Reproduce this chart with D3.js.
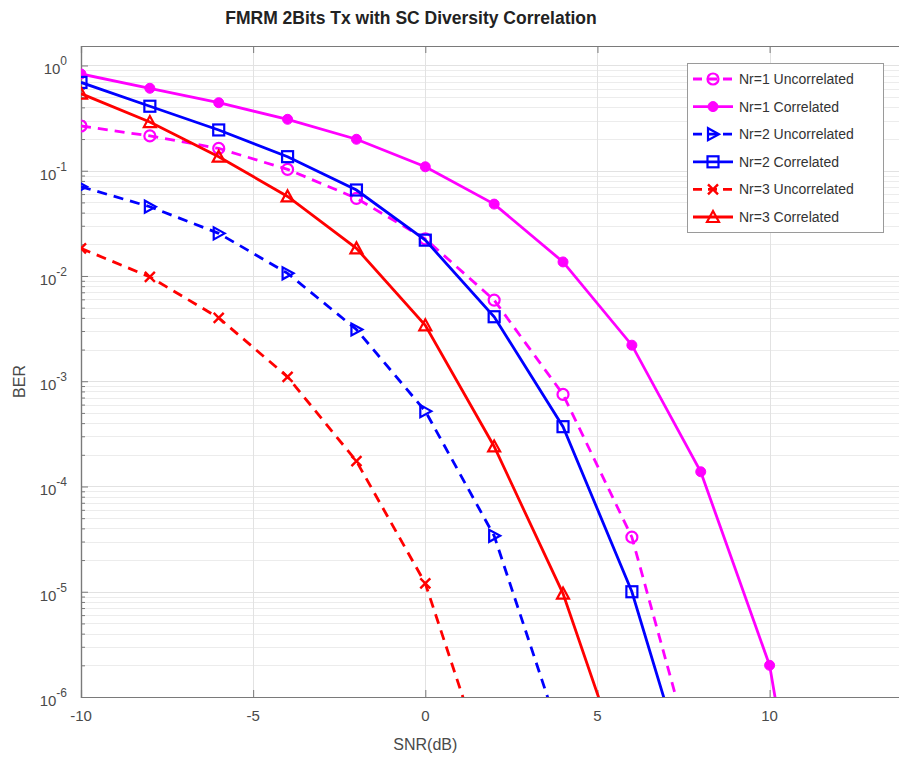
<!DOCTYPE html>
<html>
<head>
<meta charset="utf-8">
<script src="https://cdn.jsdelivr.net/npm/d3@7"></script>
<style>
  body { margin: 0; background: #fff; }
  text { font-family: "Liberation Sans", Arial, sans-serif; }
</style>
</head>
<body>
<div id="vis"></div>
<script>
// SNR points (dB)
var snr = [-10, -8, -6, -4, -2, 0, 2, 4, 6, 8, 10, 12];

// BER curves (values below 1e-6 only set the slope of the clipped tail)
var nr1Uncorr = [0.266, 0.214, 0.163, 0.103, 0.0547, 0.0225, 0.0059, 7.5e-4, 3.3e-5, 1.4e-7];
var nr1Corr = [0.83, 0.607, 0.443, 0.308, 0.199, 0.109, 0.0482, 0.0136, 0.0022, 1.38e-4, 2.0e-6, 3e-10];
var nr2Uncorr = [0.0705, 0.0455, 0.0254, 0.0106, 0.0031, 5.2e-4, 3.4e-5, 3.6e-7];
var nr2Corr = [0.69, 0.41, 0.244, 0.136, 0.0656, 0.0219, 0.0041, 3.7e-4, 1.0e-5, 6.8e-8];
var nr3Uncorr = [0.0183, 0.0098, 0.0040, 0.0011, 1.74e-4, 1.2e-5, 1.26e-7];
var nr3Corr = [0.54, 0.29, 0.136, 0.057, 0.0183, 0.0034, 2.4e-4, 9.6e-6, 1.19e-7];

var seriesNames = ["Nr=1 Uncorrelated", "Nr=1 Correlated", "Nr=2 Uncorrelated",
                   "Nr=2 Correlated", "Nr=3 Uncorrelated", "Nr=3 Correlated"];
var xTicks = [-10, -5, 0, 5, 10];
var yDecades = [-6, -5, -4, -3, -2, -1, 0];

var series = [
  { name: seriesNames[0], values: nr1Uncorr, color: "#ff00ff", dash: true, marker: "circle" },
  { name: seriesNames[1], values: nr1Corr, color: "#ff00ff", dash: false, marker: "dot" },
  { name: seriesNames[2], values: nr2Uncorr, color: "#0000ff", dash: true, marker: "triright" },
  { name: seriesNames[3], values: nr2Corr, color: "#0000ff", dash: false, marker: "square" },
  { name: seriesNames[4], values: nr3Uncorr, color: "#ff0000", dash: true, marker: "cross" },
  { name: seriesNames[5], values: nr3Corr, color: "#ff0000", dash: false, marker: "triup" }
];

var W = 899, H = 759;
var plotLeft = 81, plotTop = 46, plotBottom = 697;
var plotRight = plotLeft + 24 * 34.43;

var svg = d3.select("#vis").append("svg")
  .attr("width", W)
  .attr("height", H);

var x = d3.scaleLinear().domain([-10, 14]).range([plotLeft, plotRight]);
var y = d3.scaleLog().domain([1e-6, Math.pow(10, 0.185)]).range([plotBottom, plotTop]);

// clip for the data
svg.append("clipPath").attr("id", "plotclip")
  .append("rect")
  .attr("x", plotLeft).attr("y", plotTop)
  .attr("width", plotRight - plotLeft).attr("height", plotBottom - plotTop);

// grid
var grid = svg.append("g");
var minorVals = [];
yDecades.forEach(function (k) {
  if (k == 0) return;
  for (var m = 2; m <= 9; m++) minorVals.push(m * Math.pow(10, k));
});
grid.selectAll(".yminor").data(minorVals).enter().append("line")
  .attr("x1", plotLeft).attr("x2", plotRight)
  .attr("y1", function (d) { return Math.round(y(d)) + 0.5; })
  .attr("y2", function (d) { return Math.round(y(d)) + 0.5; })
  .attr("stroke", "#ececec").attr("stroke-width", 1);
grid.selectAll(".ymajor").data(yDecades).enter().append("line")
  .attr("x1", plotLeft).attr("x2", plotRight)
  .attr("y1", function (d) { return Math.round(y(Math.pow(10, d))) + 0.5; })
  .attr("y2", function (d) { return Math.round(y(Math.pow(10, d))) + 0.5; })
  .attr("stroke", "#e2e2e2").attr("stroke-width", 1);
grid.selectAll(".xmajor").data(xTicks).enter().append("line")
  .attr("y1", plotTop).attr("y2", plotBottom)
  .attr("x1", function (d) { return Math.round(x(d)) + 0.5; })
  .attr("x2", function (d) { return Math.round(x(d)) + 0.5; })
  .attr("stroke", "#e2e2e2").attr("stroke-width", 1);

// axes with inward ticks
var axisColor = "#7a7a7a";
var majorY = yDecades.map(function (k) { return Math.pow(10, k); });
var xAxisB = svg.append("g").attr("transform", "translate(0," + plotBottom + ")")
  .call(d3.axisTop(x).tickValues(xTicks).tickSize(7).tickFormat(""));
var xAxisT = svg.append("g").attr("transform", "translate(0," + plotTop + ")")
  .call(d3.axisBottom(x).tickValues(xTicks).tickSize(7).tickFormat(""));
var yAxisL = svg.append("g").attr("transform", "translate(" + plotLeft + ",0)")
  .call(d3.axisRight(y).tickValues(majorY).tickSize(7).tickFormat(""));
var yAxisLm = svg.append("g").attr("transform", "translate(" + plotLeft + ",0)")
  .call(d3.axisRight(y).tickValues(minorVals).tickSize(4).tickFormat(""));
var yAxisR = svg.append("g").attr("transform", "translate(" + plotRight + ",0)")
  .call(d3.axisLeft(y).tickValues(majorY).tickSize(7).tickFormat(""));
var yAxisRm = svg.append("g").attr("transform", "translate(" + plotRight + ",0)")
  .call(d3.axisLeft(y).tickValues(minorVals).tickSize(4).tickFormat(""));
[xAxisB, xAxisT, yAxisL, yAxisLm, yAxisR, yAxisRm].forEach(function (a) {
  a.selectAll("path").attr("stroke", axisColor).attr("stroke-width", 1.2);
  a.selectAll("line").attr("stroke", axisColor);
});

// tick labels
svg.selectAll(".xlab").data(xTicks).enter().append("text")
  .attr("x", function (d) { return x(d); })
  .attr("y", plotBottom + 24)
  .attr("text-anchor", "middle")
  .attr("font-size", "15px")
  .attr("fill", "#4a4a4a")
  .text(function (d) { return d; });

var ylab = svg.selectAll(".ylab").data(yDecades).enter().append("text")
  .attr("x", plotLeft - 14)
  .attr("y", function (d) { return y(Math.pow(10, d)) + 9; })
  .attr("text-anchor", "end")
  .attr("font-size", "15px")
  .attr("fill", "#4a4a4a");
ylab.append("tspan").text("10");
ylab.append("tspan").attr("dy", -9).attr("font-size", "12px")
  .text(function (d) { return d == 0 ? "0" : "-" + Math.abs(d); });

// axis titles
svg.append("text")
  .attr("x", x(0)).attr("y", 750)
  .attr("text-anchor", "middle")
  .attr("font-size", "16px").attr("fill", "#4a4a4a")
  .text("SNR(dB)");
svg.append("text")
  .attr("transform", "translate(25," + ((plotTop + plotBottom) / 2 + 10) + ") rotate(-90)")
  .attr("text-anchor", "middle")
  .attr("font-size", "16px").attr("fill", "#4a4a4a")
  .text("BER");

svg.append("text")
  .attr("x", 411).attr("y", 24)
  .attr("text-anchor", "middle")
  .attr("font-size", "17.5px").attr("font-weight", "bold").attr("fill", "#222")
  .text("FMRM 2Bits Tx with SC Diversity Correlation");

// marker drawing
function drawMarker(g, type, color) {
  if (type == "circle") {
    g.append("circle").attr("r", 5.5).attr("fill", "none").attr("stroke", color).attr("stroke-width", 2.2);
  } else if (type == "dot") {
    g.append("circle").attr("r", 5).attr("fill", color).attr("stroke", color).attr("stroke-width", 1);
  } else if (type == "square") {
    g.append("rect").attr("x", -5.5).attr("y", -5.5).attr("width", 11).attr("height", 11)
      .attr("fill", "none").attr("stroke", color).attr("stroke-width", 2.2);
  } else if (type == "triright") {
    g.append("path").attr("d", "M6,0 L-5,-6 L-5,6 Z")
      .attr("fill", "none").attr("stroke", color).attr("stroke-width", 2.2);
  } else if (type == "triup") {
    g.append("path").attr("d", "M0,-6 L6,5 L-6,5 Z")
      .attr("fill", "none").attr("stroke", color).attr("stroke-width", 2.2);
  } else if (type == "cross") {
    g.append("path").attr("d", "M-5,-5 L5,5 M-5,5 L5,-5")
      .attr("fill", "none").attr("stroke", color).attr("stroke-width", 2.4);
  }
}

var plot = svg.append("g").attr("clip-path", "url(#plotclip)");
var line = d3.line()
  .x(function (d) { return x(d[0]); })
  .y(function (d) { return y(d[1]); });

series.forEach(function (s) {
  var pts = s.values.map(function (v, i) { return [snr[i], v]; });
  plot.append("path")
    .datum(pts)
    .attr("d", line)
    .attr("fill", "none")
    .attr("stroke", s.color)
    .attr("stroke-width", 2.8)
    .attr("stroke-dasharray", s.dash ? "10,7" : null);
  pts.forEach(function (p) {
    var g = plot.append("g").attr("transform", "translate(" + x(p[0]) + "," + y(p[1]) + ")");
    drawMarker(g, s.marker, s.color);
  });
});

// legend
var lg = svg.append("g");
lg.append("rect")
  .attr("x", 687.5).attr("y", 63.5)
  .attr("width", 196).attr("height", 169)
  .attr("fill", "#fff").attr("stroke", "#9a9a9a").attr("stroke-width", 1);
series.forEach(function (s, i) {
  var ly = 79 + i * 27.6;
  lg.append("line")
    .attr("x1", 693).attr("x2", 733)
    .attr("y1", ly).attr("y2", ly)
    .attr("stroke", s.color).attr("stroke-width", 2.8)
    .attr("stroke-dasharray", s.dash ? "9,6" : null);
  var g = lg.append("g").attr("transform", "translate(713," + ly + ")");
  drawMarker(g, s.marker, s.color);
  lg.append("text")
    .attr("x", 739).attr("y", ly + 5)
    .attr("font-size", "14px").attr("fill", "#333")
    .text(s.name);
});
</script>
</body>
</html>
